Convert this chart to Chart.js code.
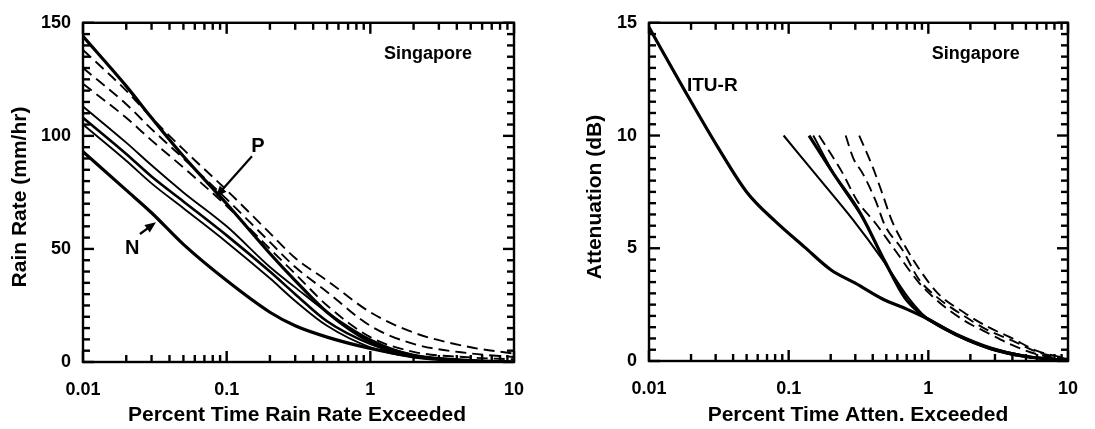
<!DOCTYPE html>
<html>
<head>
<meta charset="utf-8">
<script src="https://cdn.jsdelivr.net/npm/chart.js@4.4.1/dist/chart.umd.min.js"></script>
<style>
  html, body { margin: 0; padding: 0; background: #fff; }
  .panel { position: absolute; top: 0; height: 429px; }
</style>
</head>
<body>
<div class="panel" style="left:0;width:547px"><canvas id="rainChart" width="547" height="429"></canvas></div>
<div class="panel" style="left:547px;width:548px"><canvas id="attenChart" width="548" height="429"></canvas></div>
<script>
// --- axis ticks ---
const pctTicks = [0.01, 0.1, 1, 10];
const pctTickLabels = ['0.01', '0.1', '1', '10'];
const rainTicks = [0, 50, 100, 150];
const attenTicks = [0, 5, 10, 15];

// --- left panel: rain rate (mm/hr) vs percent time exceeded ---
const rainPct   = [0.01, 0.02, 0.03, 0.05, 0.1, 0.2, 0.3, 0.5, 1, 2, 5, 10];
const rainP     = [144, 122, 108, 91, 70, 48, 36, 22, 9, 3, 0.5, 0];
const rainDash1 = [138, 120, 108, 94, 76, 57, 46, 36, 22, 13, 6.5, 3.7];
const rainDash2 = [130, 114, 103, 90, 72, 53, 42, 31, 16, 8, 3.8, 2.2];
const rainDash3 = [123, 108, 98, 86, 69, 50, 39, 25, 11, 4.5, 2, 1.2];
const rainThin1 = [113, 97, 87, 75, 60, 42, 33, 22, 10, 3, 0.6, 0];
const rainThick2 = [108, 92, 82, 71, 56, 40, 30, 18, 8, 2.5, 0.5, 0];
const rainThin2 = [105, 89, 79, 68, 53, 37, 27, 16, 6.5, 2, 0.4, 0];
const rainN     = [93, 76, 66, 52, 36, 22, 16, 11, 6, 2.5, 0.6, 0];

// --- right panel: attenuation (dB) vs percent time exceeded ---
const ituPct   = [0.01, 0.018, 0.031, 0.05, 0.08, 0.13, 0.2, 0.3, 0.47, 0.7, 1, 1.6, 2.8, 5, 8.7, 10];
const ituAtt   = [14.8, 12, 9.5, 7.5, 6.2, 5.05, 4.05, 3.45, 2.75, 2.3, 1.85, 1.15, 0.55, 0.2, 0.05, 0.02];
const sol1Pct  = [0.092, 0.17, 0.29, 0.47, 0.72, 0.9, 1, 1.6, 2.8, 5, 8.7, 10];
const sol1Att  = [10, 8, 6.25, 4.5, 2.8, 2.1, 1.85, 1.15, 0.55, 0.2, 0.05, 0.02];
const sol2Pct  = [0.14, 0.21, 0.33, 0.49, 0.68, 0.9, 1, 1.6, 2.8, 5, 8.7, 10];
const sol2Att  = [10, 8.3, 6.5, 4.4, 2.8, 2.05, 1.85, 1.15, 0.55, 0.2, 0.05, 0.02];
const sol3Pct  = [0.15, 0.22, 0.34, 0.5, 0.7, 0.9, 1.2, 1.6, 2.8, 5, 10];
const sol3Att  = [10, 8.1, 6.3, 4.25, 2.75, 2.05, 1.6, 1.2, 0.6, 0.22, 0.03];
const dsh1Pct  = [0.165, 0.24, 0.31, 0.42, 0.58, 0.85, 1.17, 1.8, 2.75, 4, 6, 10];
const dsh1Att  = [10, 8.4, 7.1, 6.1, 4.9, 3.5, 2.65, 1.8, 1.2, 0.7, 0.3, 0.05];
const dsh2Pct  = [0.256, 0.29, 0.34, 0.42, 0.49, 0.65, 0.85, 1.17, 1.8, 2.6, 4, 6, 10];
const dsh2Att  = [10, 9, 8.3, 7.1, 6, 4.95, 3.65, 2.8, 2.0, 1.4, 0.9, 0.4, 0.08];
const dsh3Pct  = [0.32, 0.4, 0.47, 0.55, 0.68, 0.89, 1.17, 1.8, 2.6, 4, 6, 10];
const dsh3Att  = [10, 8.6, 7.4, 6.2, 5.1, 3.95, 3.0, 2.15, 1.55, 1.0, 0.45, 0.1];

const FONT = '"Liberation Sans", Arial, Helvetica, sans-serif';
const THICK = 3.2, THIN = 1.9, DASH = [11, 6];

function pts(xs, ys) {
    return xs.map((x, i) => ({ x: x, y: ys[i] }));
}

function line(xs, ys, width, dashed) {
    return {
        data: pts(xs, ys),
        borderColor: '#000',
        borderWidth: width,
        borderDash: dashed ? DASH : [],
        pointRadius: 0,
        showLine: true,
        fill: false,
        cubicInterpolationMode: 'monotone'
    };
}

function seg(ctx, x0, y0, x1, y1) {
    ctx.beginPath();
    ctx.moveTo(x0, y0);
    ctx.lineTo(x1, y1);
    ctx.stroke();
}

// minor/major tick values along the log axis
const logTickVals = [];
[0.01, 0.1, 1].forEach(d => { for (let m = 1; m <= 9; m++) logTickVals.push({ v: m * d, major: m === 1 }); });
logTickVals.push({ v: 10, major: true });

// рамка з внутрішніми засічками, підписи та стрілки
function framePlugin(cfg) {
    const yTickVals = [];
    for (let i = 0; i <= 30; i++) yTickVals.push({ v: i * cfg.yMax / 30, major: i % 10 === 0 });
    return {
        id: 'frame_' + cfg.name,
        afterDraw(chart) {
            const ctx = chart.ctx;
            const a = chart.chartArea;
            const x = chart.scales.x, y = chart.scales.y;
            ctx.save();
            ctx.setLineDash([]);
            ctx.strokeStyle = '#000';
            ctx.fillStyle = '#000';
            ctx.lineWidth = 2.4;
            ctx.strokeRect(a.left, a.top, a.right - a.left, a.bottom - a.top);

            logTickVals.forEach(t => {
                const px = x.getPixelForValue(t.v);
                const len = t.major ? 11 : 7;
                seg(ctx, px, a.bottom, px, a.bottom - len);
                seg(ctx, px, a.top, px, a.top + len);
            });
            yTickVals.forEach(t => {
                const py = y.getPixelForValue(t.v);
                const len = t.major ? 11 : 7;
                seg(ctx, a.left, py, a.left + len, py);
                seg(ctx, a.right, py, a.right - len, py);
            });

            (cfg.arrows || []).forEach(ar => {
                const x0 = x.getPixelForValue(ar.from[0]), y0 = y.getPixelForValue(ar.from[1]);
                const x1 = x.getPixelForValue(ar.to[0]), y1 = y.getPixelForValue(ar.to[1]);
                const ang = Math.atan2(y1 - y0, x1 - x0);
                const c = Math.cos(ang), s = Math.sin(ang);
                ctx.lineWidth = 2.2;
                seg(ctx, x0, y0, x1 - 6 * c, y1 - 6 * s);
                ctx.beginPath();
                ctx.moveTo(x1, y1);
                ctx.lineTo(x1 - 11 * c + 4.5 * s, y1 - 11 * s - 4.5 * c);
                ctx.lineTo(x1 - 11 * c - 4.5 * s, y1 - 11 * s + 4.5 * c);
                ctx.closePath();
                ctx.fill();
            });

            ctx.textBaseline = 'middle';
            (cfg.notes || []).forEach(n => {
                ctx.font = 'bold ' + n.size + 'px ' + FONT;
                ctx.textAlign = n.align || 'center';
                ctx.fillText(n.text, x.getPixelForValue(n.at[0]), y.getPixelForValue(n.at[1]));
            });

            ctx.font = 'bold 21px ' + FONT;
            ctx.textAlign = 'center';
            ctx.fillText(cfg.xTitle, cfg.xTitlePos[0], cfg.xTitlePos[1]);
            ctx.translate(cfg.yTitlePos[0], cfg.yTitlePos[1]);
            ctx.rotate(-Math.PI / 2);
            ctx.fillText(cfg.yTitle, 0, 0);
            ctx.restore();
        }
    };
}

function makeChart(id, datasets, yTicks, plotLeft, plotBottom, padRight, cfg) {
    const tickFont = { family: FONT, size: 18, weight: 'bold' };
    return new Chart(document.getElementById(id), {
        type: 'scatter',
        data: { datasets: datasets },
        plugins: [framePlugin(cfg)],
        options: {
            responsive: false,
            animation: false,
            layout: { padding: { top: 15, right: padRight, left: 0, bottom: 0 } },
            plugins: { legend: { display: false }, tooltip: { enabled: false } },
            scales: {
                x: {
                    type: 'logarithmic', min: 0.01, max: 10,
                    grid: { display: false, drawTicks: false },
                    border: { display: false },
                    afterBuildTicks: s => { s.ticks = pctTicks.map(v => ({ value: v })); },
                    afterFit: s => { s.height = plotBottom; },
                    ticks: {
                        color: '#000', font: tickFont, padding: 17, maxRotation: 0, autoSkip: false,
                        callback: v => { const i = pctTicks.indexOf(v); return i >= 0 ? pctTickLabels[i] : ''; }
                    }
                },
                y: {
                    min: 0, max: cfg.yMax,
                    grid: { display: false, drawTicks: false },
                    border: { display: false },
                    afterBuildTicks: s => { s.ticks = yTicks.map(v => ({ value: v })); },
                    afterFit: s => { s.width = plotLeft; },
                    ticks: { color: '#000', font: tickFont, padding: 12 }
                }
            }
        }
    });
}

makeChart('rainChart', [
    line(rainPct, rainP, THICK, false),
    line(rainPct, rainDash1, THIN, true),
    line(rainPct, rainDash2, THIN, true),
    line(rainPct, rainDash3, THIN, true),
    line(rainPct, rainThin1, THIN, false),
    line(rainPct, rainThick2, 2.6, false),
    line(rainPct, rainThin2, THIN, false),
    line(rainPct, rainN, THICK, false)
], rainTicks, 83, 67, 33, {
    name: 'rain', yMax: 150,
    xTitle: 'Percent Time Rain Rate Exceeded', xTitlePos: [297, 415],
    yTitle: 'Rain Rate (mm/hr)', yTitlePos: [20, 197],
    notes: [
        { text: 'Singapore', at: [2.52, 136], size: 18 },
        { text: 'P', at: [0.165, 95.5], size: 20 },
        { text: 'N', at: [0.022, 50], size: 20 }
    ],
    arrows: [
        { from: [0.15, 91], to: [0.084, 73] },
        { from: [0.0249, 56.6], to: [0.0322, 61.8] }
    ]
});

makeChart('attenChart', [
    line(ituPct, ituAtt, THICK, false),
    line(sol1Pct, sol1Att, 2.1, false),
    line(sol2Pct, sol2Att, THICK, false),
    line(sol3Pct, sol3Att, THIN, false),
    line(dsh1Pct, dsh1Att, THIN, true),
    line(dsh2Pct, dsh2Att, THIN, true),
    line(dsh3Pct, dsh3Att, THIN, true)
], attenTicks, 102, 68, 14, {
    name: 'atten', yMax: 15,
    xTitle: 'Percent Time Atten. Exceeded', xTitlePos: [311, 415],
    yTitle: 'Attenuation (dB)', yTitlePos: [48, 197],
    notes: [
        { text: 'Singapore', at: [2.19, 13.6], size: 18 },
        { text: 'ITU-R', at: [0.0187, 12.2], size: 19, align: 'left' }
    ]
});
</script>
</body>
</html>
